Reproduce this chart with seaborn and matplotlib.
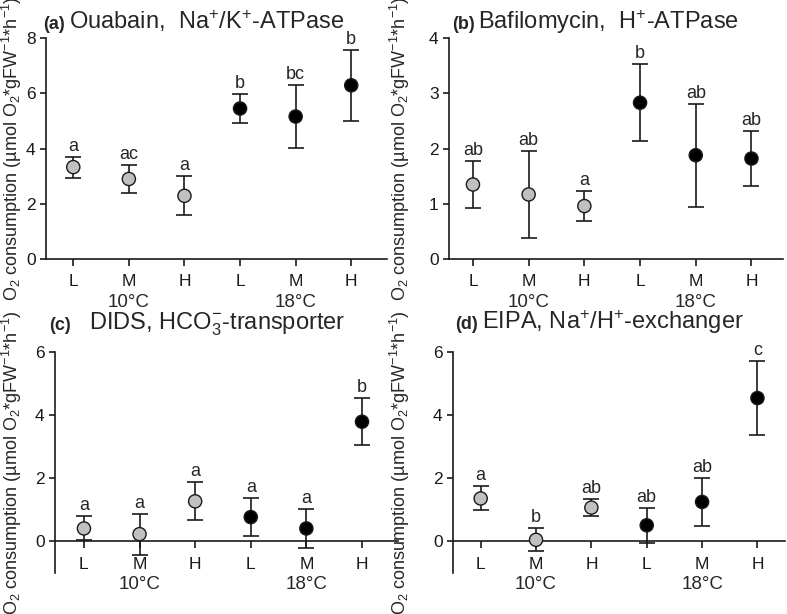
import numpy as np
import pandas as pd
import seaborn as sns
import matplotlib.pyplot as plt

# categories
groups = ["L", "M", "H", "L", "M", "H"]
temps = ["10°C", "10°C", "10°C", "18°C", "18°C", "18°C"]

# (a) Ouabain
ouabain_mean = [3.33, 2.90, 2.29, 5.45, 5.16, 6.29]
ouabain_err = [0.38, 0.50, 0.71, 0.53, 1.14, 1.29]
ouabain_letters = ["a", "ac", "a", "b", "bc", "b"]

# (b) Bafilomycin
bafilo_mean = [1.35, 1.17, 0.96, 2.83, 1.88, 1.82]
bafilo_err = [0.43, 0.79, 0.27, 0.70, 0.93, 0.50]
bafilo_letters = ["ab", "ab", "a", "b", "ab", "ab"]

# (c) DIDS
dids_mean = [0.41, 0.23, 1.27, 0.77, 0.41, 3.79]
dids_err = [0.38, 0.65, 0.60, 0.60, 0.62, 0.75]
dids_letters = ["a", "a", "a", "a", "a", "b"]

# (d) EIPA
eipa_mean = [1.36, 0.05, 1.07, 0.51, 1.25, 4.54]
eipa_err = [0.38, 0.36, 0.28, 0.55, 0.75, 1.18]
eipa_letters = ["a", "b", "ab", "ab", "ab", "c"]

sns.set_style("ticks")
plt.rcParams["font.family"] = ["Liberation Sans", "DejaVu Sans"]
plt.rcParams["mathtext.fontset"] = "custom"
plt.rcParams["mathtext.rm"] = "Liberation Sans"
plt.rcParams["mathtext.it"] = "Liberation Sans:italic"
plt.rcParams["mathtext.bf"] = "Liberation Sans:bold"
plt.rcParams["mathtext.default"] = "regular"

ylabel = "O$_2$ consumption (µmol O$_2$*gFW$^{-1}$*h$^{-1}$)"
palette = {"10°C": "#c0c0c0", "18°C": "black"}

panels = [
    # tag, title, means, errs, letters, rect, ylim, yticks, xlim, title_y, tag_x, gap, label_x
    ("(a)", "Ouabain,  Na$^{+}$/K$^{+}$-ATPase", ouabain_mean, ouabain_err, ouabain_letters,
     [0.0585, 0.578, 0.433, 0.360], (0, 8), [0, 2, 4, 6, 8], (-0.49, 5.64), 1.041, -0.01, 3, -0.10),
    ("(b)", "Bafilomycin,  H$^{+}$-ATPase", bafilo_mean, bafilo_err, bafilo_letters,
     [0.5705, 0.578, 0.424, 0.360], (0, 4), [0, 1, 2, 3, 4], (-0.43, 5.56), 1.041, 0.009, 2, -0.147),
    ("(c)", "DIDS, HCO$_3^{-}$-transporter", dids_mean, dids_err, dids_letters,
     [0.0699, 0.0668, 0.436, 0.360], (-1, 6), [0, 2, 4, 6], (-0.52, 5.65), 1.10, -0.017, 13, -0.125),
    ("(d)", "EIPA, Na$^{+}$/H$^{+}$-exchanger", eipa_mean, eipa_err, eipa_letters,
     [0.5756, 0.0668, 0.422, 0.360], (-1, 6), [0, 2, 4, 6], (-0.5, 5.5), 1.104, 0.006, 3, -0.16),
]

fig = plt.figure(figsize=(7.87, 6.14), dpi=100)

for tag, title, means, errs, letters, rect, ylim, yticks, xlim, ty, tx, gap, lx in panels:
    ax = fig.add_axes(rect)
    pos = np.arange(len(groups))
    df = pd.DataFrame({"pos": pos, "mean": means, "temp": temps})

    ax.errorbar(pos, means, yerr=errs, fmt="none", ecolor="#1a1a1a",
                elinewidth=1.2, capsize=5.5, capthick=1.2, zorder=2)
    sns.scatterplot(data=df, x="pos", y="mean", hue="temp", palette=palette,
                    s=90, edgecolor="#1a1a1a", linewidth=1, legend=False,
                    zorder=3, ax=ax)

    for x, m, e, lab in zip(pos, means, errs, letters):
        ax.annotate(lab, xy=(x, m + e), xytext=(0, 1.5), textcoords="offset points",
                    ha="center", va="bottom", fontsize=13)

    ax.set_xlim(*xlim)
    ax.set_ylim(*ylim)
    ax.set_yticks(yticks)
    ax.set_xticks(pos)
    ax.set_xticklabels(groups)
    ax.set_xlabel("")
    ax.set_ylabel(ylabel, fontsize=13, va="center")
    ax.yaxis.set_label_coords(lx, 0.5)

    sns.despine(ax=ax)
    if ylim[0] < 0:
        ax.spines["bottom"].set_position(("data", 0))
    for sp in ["left", "bottom"]:
        ax.spines[sp].set_linewidth(1.2)
        ax.spines[sp].set_color("#1a1a1a")
    ax.tick_params(axis="x", length=5, width=1.2, pad=6, labelsize=12.5, colors="#1a1a1a")
    ax.tick_params(axis="y", length=4.5, width=1.2, pad=3, labelsize=12.5, colors="#1a1a1a")

    # temperature group labels
    for x, t in [(1, "10°C"), (4, "18°C")]:
        ax.annotate(t, xy=(x, 0), xytext=(0, -31), textcoords="offset points",
                    ha="center", va="center", fontsize=13.5)

    t1 = ax.text(tx, ty, tag, transform=ax.transAxes, fontsize=13,
                 fontweight="bold", ha="left", va="baseline")
    ax.annotate(title, xy=(1, ty), xycoords=(t1, "axes fraction"),
                xytext=(gap, 0), textcoords="offset points",
                ha="left", va="baseline", fontsize=17)

fig.savefig("out.png", dpi=100)
